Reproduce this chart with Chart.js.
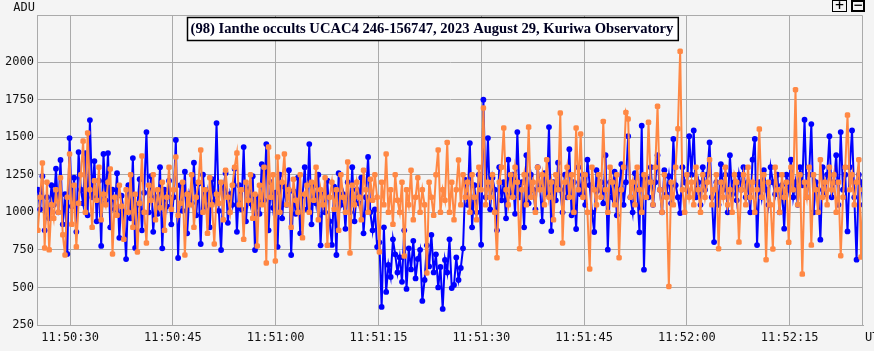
<!DOCTYPE html>
<html><head><meta charset="utf-8">
<script src="https://cdn.jsdelivr.net/npm/chart.js@4/dist/chart.umd.min.js"></script>
<style>html,body{margin:0;padding:0;background:#f4f4f4;overflow:hidden}canvas{display:block}</style>
</head><body>
<div style="position:relative;width:874px;height:351px"><canvas id="c" width="874" height="351"></canvas></div>
<script>
const chartTitle = "(98) Ianthe occults UCAC4 246-156747, 2023 August 29, Kuriwa Observatory";
const yAxisLabel = "ADU";
const xAxisLabel = "UT";
const startSec = 25.3;   // seconds after 11:50:00 UT of first sample
const stepSec = 0.33;    // sampling interval, seconds
const yTicks = [250, 500, 750, 1000, 1250, 1500, 1750, 2000];
const xTicks = [30, 45, 60, 75, 90, 105, 120, 135];

const blueValues = [
1150,1020,1240,880,1100,960,1180,1050,1290,1000,
1348,920,1120,723,1494,1040,1230,870,1401,1150,
1060,1394,980,1614,1100,1341,940,1210,776,1388,
1080,1394,900,1150,1020,1260,830,1110,1000,689,
1180,960,1361,763,1050,1220,880,1130,1534,1000,
1240,870,1100,990,1300,760,1150,1040,1210,920,
1100,1481,696,1180,1010,1270,860,1120,1060,1330,
980,1190,789,1250,1040,1130,900,1220,1070,1594,
1010,749,1160,1260,930,1120,1050,1290,870,1180,
1020,1434,940,1150,1060,1240,749,1100,990,1320,
1080,1454,880,1200,1030,1130,770,1250,960,1170,
1050,1280,716,1140,990,1230,860,1110,1300,1020,
1454,920,1180,1060,1250,780,1130,1000,1210,940,
783,1170,716,1260,1050,1120,890,1200,1000,1300,
940,1150,1060,1230,860,1100,1368,1000,880,1020,
770,800,370,900,470,650,570,820,720,600,
700,537,880,490,760,620,810,560,690,750,
410,550,780,640,850,600,720,500,636,357,
683,600,820,496,517,700,550,630,760,1215,
1050,1461,900,1180,1000,1250,784,1749,1100,1494,
1020,1230,1150,880,1300,1080,1200,960,1350,1110,
1250,990,1534,1100,1200,900,1380,1060,1250,1150,
1020,1300,1180,940,1260,1120,1567,875,1200,1080,
1330,1150,1000,1250,1100,1420,980,1200,889,1300,
1120,1250,1050,1350,1180,1000,869,1280,1150,1200,
1060,1380,751,1200,1100,1270,980,1150,1320,1050,
1200,1506,1100,1000,1260,1150,867,1576,618,1230,
1100,1300,1050,1200,1380,1150,1000,1280,1120,1240,
1060,1488,1180,1100,995,1300,1200,1150,1506,1250,
1545,1100,1200,1050,1300,1150,1250,1465,1100,802,
1200,1050,1320,1150,1250,1000,1380,1120,1200,1080,
1250,1150,1300,1100,1200,1000,1350,1488,782,1200,
1100,1280,1150,1050,1300,1200,1120,1250,1000,1180,
891,1250,1150,1350,1100,1200,1050,1300,1180,1616,
1100,1250,1587,1000,1200,1150,818,1300,1120,1250,
1506,1100,1200,1380,1050,1534,1150,1250,873,1300,
1545,1100,685,1250,1200,1050,813
];

const orangeValues = [
880,1100,1328,763,1200,750,1050,960,1150,1000,
1230,850,716,1100,1388,920,1180,770,1060,1250,
1474,1000,1528,1150,900,1210,1080,1300,950,1120,
1050,1200,1288,723,1100,980,1180,1040,820,1150,
1000,1250,900,1120,736,1060,1375,1000,796,1180,
1080,1250,950,1150,1030,1200,880,1100,1300,1020,
1150,1368,980,1060,1200,716,1120,1050,1250,900,
1100,1200,1415,1000,1150,860,1230,1050,789,1120,
1060,1200,950,1280,1100,1000,1180,1300,1394,1050,
1150,820,1200,1080,1250,960,1120,776,1180,1050,
1300,663,1434,1100,1250,676,1368,1000,1200,1388,
1050,1150,900,1220,1080,1000,1250,830,1120,1180,
1000,1200,1080,1300,950,1150,1050,1230,780,1100,
1200,1020,1150,880,1250,1100,1000,1335,729,1180,
1050,1200,1100,950,1280,1150,1000,1220,1080,1250,
1100,736,1200,1050,1388,1000,1150,920,1250,1080,
1000,1200,709,1150,1050,1280,950,1100,1230,1000,
1150,1050,596,1200,1100,980,1250,1415,1000,1150,
1080,1465,1000,1200,950,1150,1348,1050,1250,1100,
1200,1000,1250,1100,950,1300,1150,1694,1050,1200,
1100,1250,1000,698,1200,1300,1561,1150,1050,1250,
1100,1300,1200,758,1150,1250,1050,1567,1100,1200,
1000,1300,1150,1250,1050,1350,1100,1200,950,1250,
1150,1661,796,1200,1300,1100,1250,1000,1561,1150,
1521,1100,1250,1000,623,1300,1150,1050,1250,1100,
1605,1150,1000,1300,1200,1050,1250,698,1150,1300,
1665,1621,1100,1200,1050,1300,1150,1000,1250,1100,
1599,1200,1050,1300,1705,1150,1000,1250,1100,507,
1200,1050,1300,1556,2071,1150,1000,1250,1100,1200,
1050,1300,1150,1000,1250,1100,1200,1350,1050,1150,
1250,758,1200,1100,1300,1050,1150,1000,1250,1200,
802,1150,1250,1050,1300,1100,1200,1000,1150,1554,
1100,1250,685,1200,1050,756,1300,1150,1000,1250,
1100,1200,800,1300,1150,1816,1050,1250,589,1200,
1100,1300,782,1250,1150,1000,1350,1100,1200,1050,
1300,1150,1250,1000,1200,711,1100,1300,1647,1150,
1250,1050,1200,1350,702,1150,1410
];

function toPoints(vals) {
  return vals.map((v, i) => ({ x: startSec + i * stepSec, y: v }));
}
function fmtTime(sec) {
  const s = Math.round(sec);
  const m = 50 + Math.floor(s / 60);
  const hh = 11 + Math.floor(m / 60);
  const mm = m % 60, ss = s % 60;
  return hh + ':' + String(mm).padStart(2, '0') + ':' + String(ss).padStart(2, '0');
}

const MONO = "'DejaVu Sans Mono', monospace";
const GRID = '#aaaaaa';

const decor = {
  id: 'decor',
  beforeDraw(chart) {
    const ctx = chart.ctx;
    ctx.save();
    ctx.fillStyle = '#f4f4f4';
    ctx.fillRect(0, 0, chart.width, chart.height);
    ctx.restore();
  },
  afterDatasetsDraw(chart) {
    const ctx = chart.ctx, a = chart.chartArea;
    ctx.save();
    ctx.strokeStyle = GRID; ctx.lineWidth = 1;
    ctx.beginPath();
    ctx.moveTo(Math.round(a.left) + 0.5, Math.round(a.top) + 0.5);
    ctx.lineTo(Math.round(a.right) - 0.5, Math.round(a.top) + 0.5);
    ctx.lineTo(Math.round(a.right) - 0.5, Math.round(a.bottom) + 0.5);
    ctx.stroke();
    // title box
    ctx.font = "bold 14.6px 'Liberation Serif', 'Times New Roman', serif";
    const tw = ctx.measureText(chartTitle).width;
    const cx = 432, bw = tw + 8, bx = Math.round(cx - bw / 2);
    ctx.fillStyle = '#ffffff';
    ctx.fillRect(bx, 17, bw, 23);
    ctx.strokeStyle = '#000'; ctx.lineWidth = 1.5;
    ctx.strokeRect(bx + 0.5, 17.5, bw, 23);
    ctx.fillStyle = '#000022';
    ctx.textAlign = 'center'; ctx.textBaseline = 'middle';
    ctx.fillText(chartTitle, cx, 29.5);
    // axis labels
    ctx.font = "12px " + MONO;
    ctx.fillStyle = '#111';
    ctx.textAlign = 'right';
    ctx.fillText(yAxisLabel, 35, 8);
    ctx.textAlign = 'left';
    ctx.fillText(xAxisLabel, 865, 338);
    // zoom buttons
    ctx.strokeStyle = '#000'; ctx.lineWidth = 1;
    ctx.strokeRect(832.5, 0.5, 14, 11);
    ctx.lineWidth = 2;
    ctx.strokeRect(852, 1, 12, 10);
    ctx.font = "bold 12px 'DejaVu Sans', sans-serif";
    ctx.fillStyle = '#000';
    ctx.textAlign = 'center';
    ctx.fillText('+', 839.5, 6);
    ctx.fillText('\u2212', 858, 6);
    ctx.restore();
  }
};

new Chart(document.getElementById('c'), {
  type: 'line',
  data: {
    datasets: [
      {
        label: 'comparison',
        data: toPoints(orangeValues),
        borderColor: '#ff8844', backgroundColor: '#ff8844',
        borderWidth: 2, pointRadius: 3.2, pointStyle: 'rectRounded',
        pointBorderWidth: 0, tension: 0, order: 0
      },
      {
        label: 'target',
        data: toPoints(blueValues),
        borderColor: '#0000ff', backgroundColor: '#0000ff',
        borderWidth: 2, pointRadius: 2.9, pointStyle: 'circle',
        pointBorderWidth: 0, tension: 0, order: 1
      }
    ]
  },
  options: {
    responsive: false, animation: false, devicePixelRatio: 1,
    layout: { padding: { top: 15, right: 11, left: 0, bottom: 0 } },
    plugins: { legend: { display: false }, tooltip: { enabled: false }, title: { display: false } },
    scales: {
      x: {
        type: 'linear', min: 25.17, max: 145.7,
        afterBuildTicks: s => { s.ticks = xTicks.map(v => ({ value: v })); },
        afterFit: s => { s.height = 26; },
        grid: { color: GRID, lineWidth: 1, drawTicks: false },
        border: { display: true, color: GRID },
        ticks: { autoSkip: false, maxRotation: 0, padding: 6, color: '#111',
                 font: { family: MONO, size: 12 }, callback: v => fmtTime(v) }
      },
      y: {
        type: 'linear', min: 250, max: 2313,
        afterBuildTicks: s => { s.ticks = yTicks.map(v => ({ value: v })); },
        afterFit: s => { s.width = 37; },
        grid: { color: GRID, lineWidth: 1, drawTicks: false },
        border: { display: true, color: GRID },
        ticks: { padding: 3, color: '#111', font: { family: MONO, size: 12 },
                 callback: v => String(v) }
      }
    }
  },
  plugins: [decor]
});
</script>
</body></html>
